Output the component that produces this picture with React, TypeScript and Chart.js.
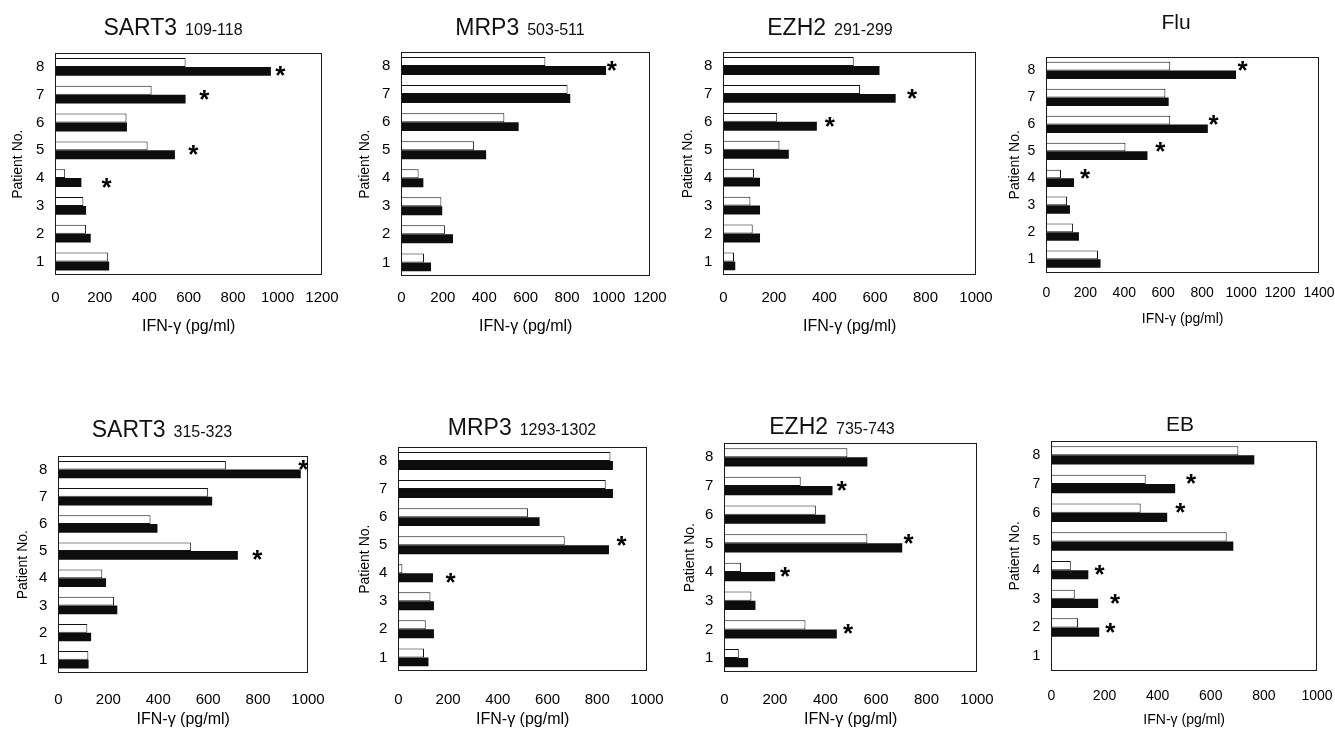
import React, { useEffect, useRef } from "react";
import { Chart, registerables } from "chart.js";

Chart.register(...registerables);

// ---------- data ----------
const patients = ["1", "2", "3", "4", "5", "6", "7", "8"];

// SART3 109-118
const sart3a_control = [236, 138, 126, 44, 415, 320, 433, 586];
const sart3a_peptide = [242, 159, 138, 117, 538, 322, 586, 970];
const sart3a_starPatients = [8, 7, 5, 4];
const sart3a_starValues = [1012, 670, 621, 230];
const sart3a_starBars = ["peptide", "both", "both", "peptide"];
const sart3a_ticks = [0, 200, 400, 600, 800, 1000, 1200];

// MRP3 503-511
const mrp3a_control = [109, 210, 193, 83, 350, 497, 802, 695];
const mrp3a_peptide = [143, 249, 197, 106, 409, 566, 815, 988];
const mrp3a_starPatients = [8];
const mrp3a_starValues = [1016];
const mrp3a_starBars = ["both"];
const mrp3a_ticks = [0, 200, 400, 600, 800, 1000, 1200];

// EZH2 291-299
const ezh2a_control = [42, 116, 107, 121, 222, 213, 541, 516];
const ezh2a_peptide = [47, 145, 145, 145, 259, 370, 682, 618];
const ezh2a_starPatients = [7, 6];
const ezh2a_starValues = [747, 421];
const ezh2a_starBars = ["both", "both"];
const ezh2a_ticks = [0, 200, 400, 600, 800, 1000];

// Flu
const flu_control = [265, 137, 106, 75, 406, 636, 611, 636];
const flu_peptide = [278, 167, 121, 142, 519, 829, 628, 974];
const flu_starPatients = [8, 6, 5, 4];
const flu_starValues = [1008, 858, 585, 198];
const flu_starBars = ["control", "control", "control", "control"];
const flu_ticks = [0, 200, 400, 600, 800, 1000, 1200, 1400];

// SART3 315-323
const sart3b_control = [120, 116, 223, 176, 532, 369, 600, 671];
const sart3b_peptide = [121, 131, 236, 191, 719, 397, 616, 971];
const sart3b_starPatients = [8, 5];
const sart3b_starValues = [981, 797];
const sart3b_starBars = ["control", "peptide"];
const sart3b_ticks = [0, 200, 400, 600, 800, 1000];

// MRP3 1293-1302
const mrp3b_control = [103, 110, 129, 16, 669, 521, 834, 853];
const mrp3b_peptide = [121, 143, 143, 139, 847, 568, 863, 863];
const mrp3b_starPatients = [5, 4];
const mrp3b_starValues = [898, 210];
const mrp3b_starBars = ["control", "peptide"];
const mrp3b_ticks = [0, 200, 400, 600, 800, 1000];

// EZH2 735-743
const ezh2b_control = [57, 321, 107, 66, 566, 362, 302, 487];
const ezh2b_peptide = [94, 445, 123, 201, 704, 400, 428, 566];
const ezh2b_starPatients = [7, 5, 4, 2];
const ezh2b_starValues = [465, 729, 240, 490];
const ezh2b_starBars = ["both", "control", "both", "both"];
const ezh2b_ticks = [0, 200, 400, 600, 800, 1000];

// EB
const eb_control = [null, 100, 88, 73, 660, 336, 355, 704];
const eb_peptide = [null, 180, 176, 139, 685, 436, 466, 764];
const eb_starPatients = [7, 6, 4, 3, 2];
const eb_starValues = [526, 485, 181, 240, 222];
const eb_starBars = ["control", "control", "both", "both", "both"];
const eb_ticks = [0, 200, 400, 600, 800, 1000];

const yAxisTitle = "Patient No.";
const xAxisTitle = "IFN-\u03b3 (pg/ml)";

// ---------- layout ----------
type Frame = { l: number; t: number; r: number; b: number };
type Spec = {
  name: string;
  range: string;
  control: (number | null)[];
  peptide: (number | null)[];
  starPatients: number[];
  starValues: number[];
  starBars: string[];
  ticks: number[];
  frame: Frame;
  yTitleX: number;
  xTickY: number;
  xTitleY: number;
  titleX: number;
  titleY: number;
  narrow?: boolean;
};

const FONT = "'Liberation Sans', Arial, Helvetica, sans-serif";

const specs: Spec[] = [
  {
    name: "SART3", range: "109-118", control: sart3a_control, peptide: sart3a_peptide,
    starPatients: sart3a_starPatients, starValues: sart3a_starValues, starBars: sart3a_starBars,
    ticks: sart3a_ticks, frame: { l: 55, t: 53, r: 322, b: 275 },
    yTitleX: 18, xTickY: 297, xTitleY: 326, titleX: 173, titleY: 27,
  },
  {
    name: "MRP3", range: "503-511", control: mrp3a_control, peptide: mrp3a_peptide,
    starPatients: mrp3a_starPatients, starValues: mrp3a_starValues, starBars: mrp3a_starBars,
    ticks: mrp3a_ticks, frame: { l: 401, t: 52, r: 650, b: 276 },
    yTitleX: 365, xTickY: 297, xTitleY: 326, titleX: 520, titleY: 27,
  },
  {
    name: "EZH2", range: "291-299", control: ezh2a_control, peptide: ezh2a_peptide,
    starPatients: ezh2a_starPatients, starValues: ezh2a_starValues, starBars: ezh2a_starBars,
    ticks: ezh2a_ticks, frame: { l: 723, t: 52, r: 976, b: 275 },
    yTitleX: 688, xTickY: 297, xTitleY: 326, titleX: 830, titleY: 27,
  },
  {
    name: "Flu", range: "", control: flu_control, peptide: flu_peptide,
    starPatients: flu_starPatients, starValues: flu_starValues, starBars: flu_starBars,
    ticks: flu_ticks, frame: { l: 1046, t: 57, r: 1319, b: 273 },
    yTitleX: 1015, xTickY: 294, xTitleY: 320, titleX: 1176, titleY: 21, narrow: true,
  },
  {
    name: "SART3", range: "315-323", control: sart3b_control, peptide: sart3b_peptide,
    starPatients: sart3b_starPatients, starValues: sart3b_starValues, starBars: sart3b_starBars,
    ticks: sart3b_ticks, frame: { l: 58, t: 456, r: 308, b: 673 },
    yTitleX: 23, xTickY: 699, xTitleY: 719, titleX: 162, titleY: 429,
  },
  {
    name: "MRP3", range: "1293-1302", control: mrp3b_control, peptide: mrp3b_peptide,
    starPatients: mrp3b_starPatients, starValues: mrp3b_starValues, starBars: mrp3b_starBars,
    ticks: mrp3b_ticks, frame: { l: 398, t: 447, r: 647, b: 671 },
    yTitleX: 365, xTickY: 699, xTitleY: 719, titleX: 522, titleY: 427,
  },
  {
    name: "EZH2", range: "735-743", control: ezh2b_control, peptide: ezh2b_peptide,
    starPatients: ezh2b_starPatients, starValues: ezh2b_starValues, starBars: ezh2b_starBars,
    ticks: ezh2b_ticks, frame: { l: 724, t: 443, r: 977, b: 672 },
    yTitleX: 690, xTickY: 699, xTitleY: 719, titleX: 832, titleY: 426,
  },
  {
    name: "EB", range: "", control: eb_control, peptide: eb_peptide,
    starPatients: eb_starPatients, starValues: eb_starValues, starBars: eb_starBars,
    ticks: eb_ticks, frame: { l: 1051, t: 441, r: 1317, b: 671 },
    yTitleX: 1015, xTickY: 697, xTitleY: 721, titleX: 1180, titleY: 423, narrow: true,
  },
];

const PAD_TOP = 26;
const PAD_RIGHT = 48;

function Panel({ spec }: { spec: Spec }) {
  const ref = useRef<HTMLCanvasElement | null>(null);

  const tickSize = spec.narrow ? 14 : 15;
  const xTitleSize = spec.narrow ? 14 : 16;
  const yTitleSize = 14;
  const lhX = xTitleSize * 1.2;
  const lhY = yTitleSize * 1.2;
  const lhTick = tickSize * 1.2;
  const f = spec.frame;
  const yW = f.l - (spec.yTitleX - lhY / 2);
  const xH = spec.xTitleY + lhX / 2 - f.b;
  const left = f.l - yW;
  const top = f.t - PAD_TOP;
  const width = f.r + PAD_RIGHT - left;
  const height = f.b + xH - top;
  const tickPad = spec.xTickY - f.b - lhTick / 2;

  useEffect(() => {
    if (!ref.current) return;
    const labels = [...patients].reverse();
    const ctrl = [...spec.control].reverse();
    const pep = [...spec.peptide].reverse();
    const xMax = spec.ticks[spec.ticks.length - 1];

    const framePlugin = {
      id: "frame",
      afterDatasetsDraw(chart: any) {
        const { ctx, chartArea } = chart;
        ctx.save();
        ctx.strokeStyle = "#1a1a1a";
        ctx.lineWidth = 1;
        ctx.strokeRect(
          Math.round(chartArea.left) + 0.5,
          Math.round(chartArea.top) + 0.5,
          Math.round(chartArea.right - chartArea.left) - 1,
          Math.round(chartArea.bottom - chartArea.top) - 1
        );
        ctx.restore();
      },
    };

    const starPlugin = {
      id: "stars",
      afterDatasetsDraw(chart: any) {
        const { ctx } = chart;
        const xs = chart.scales.x;
        const m0 = chart.getDatasetMeta(0);
        const m1 = chart.getDatasetMeta(1);
        ctx.save();
        ctx.fillStyle = "#000";
        ctx.font = `bold 26px ${FONT}`;
        ctx.textAlign = "center";
        ctx.textBaseline = "alphabetic";
        const mt = ctx.measureText("*");
        const off = (mt.actualBoundingBoxAscent - mt.actualBoundingBoxDescent) / 2;
        spec.starPatients.forEach((p, i) => {
          const idx = labels.indexOf(String(p));
          const e0 = m0.data[idx];
          const e1 = m1.data[idx];
          let y = (e0.y + e1.y) / 2;
          if (spec.starBars[i] === "control") y = e0.y;
          if (spec.starBars[i] === "peptide") y = e1.y;
          const x = xs.getPixelForValue(spec.starValues[i]);
          ctx.fillText("*", x, y + off);
        });
        ctx.restore();
      },
    };

    const chart = new Chart(ref.current, {
      type: "bar",
      data: {
        labels,
        datasets: [
          {
            label: "control",
            data: ctrl,
            backgroundColor: "#ffffff",
            borderColor: "#111111",
            borderWidth: 1,
            barPercentage: 1,
            categoryPercentage: 0.64,
          },
          {
            label: "peptide",
            data: pep,
            backgroundColor: "#0d0d0d",
            borderWidth: 0,
            barPercentage: 1,
            categoryPercentage: 0.64,
          },
        ],
      },
      options: {
        indexAxis: "y",
        animation: false,
        responsive: false,
        devicePixelRatio: 1,
        layout: { padding: { left: 0, top: PAD_TOP, right: PAD_RIGHT, bottom: 0 } },
        plugins: {
          legend: { display: false },
          tooltip: { enabled: false },
          title: { display: false },
        },
        scales: {
          x: {
            type: "linear",
            min: 0,
            max: xMax,
            grid: { display: false, drawTicks: false },
            border: { display: false },
            afterBuildTicks: (s: any) => {
              s.ticks = spec.ticks.map((v) => ({ value: v }));
            },
            afterFit: (s: any) => {
              s.height = xH;
            },
            ticks: {
              color: "#000",
              padding: tickPad,
              maxRotation: 0,
              autoSkip: false,
              font: { family: FONT, size: tickSize },
              callback: (v: any) => String(v),
            },
            title: {
              display: true,
              text: xAxisTitle,
              color: "#000",
              padding: 0,
              font: { family: FONT, size: xTitleSize },
            },
          },
          y: {
            type: "category",
            grid: { display: false, drawTicks: false },
            border: { display: false },
            afterFit: (s: any) => {
              s.width = yW;
            },
            ticks: {
              color: "#000",
              padding: 11,
              font: { family: FONT, size: tickSize },
            },
            title: {
              display: true,
              text: yAxisTitle,
              color: "#000",
              padding: 0,
              font: { family: FONT, size: yTitleSize },
            },
          },
        },
      },
      plugins: [framePlugin, starPlugin],
    });
    return () => chart.destroy();
  }, []);

  return (
    <>
      <canvas
        ref={ref}
        width={Math.round(width)}
        height={Math.round(height)}
        style={{
          position: "absolute",
          left: Math.round(left),
          top: Math.round(top),
          width: Math.round(width),
          height: Math.round(height),
        }}
      />
      <div
        style={{
          position: "absolute",
          left: spec.titleX,
          top: spec.titleY,
          transform: "translate(-50%, -50%)",
          whiteSpace: "nowrap",
          fontFamily: FONT,
          color: "#111",
          lineHeight: 1,
        }}
      >
        <span style={{ fontSize: spec.range ? 23 : 21 }}>{spec.name}</span>
        {spec.range ? (
          <span style={{ fontSize: 16, marginLeft: 8 }}>{spec.range}</span>
        ) : null}
      </div>
    </>
  );
}

export default function App() {
  return (
    <div
      style={{
        position: "fixed",
        left: 0,
        top: 0,
        width: 1335,
        height: 731,
        background: "#ffffff",
        overflow: "hidden",
      }}
    >
      {specs.map((s, i) => (
        <Panel key={i} spec={s} />
      ))}
    </div>
  );
}
